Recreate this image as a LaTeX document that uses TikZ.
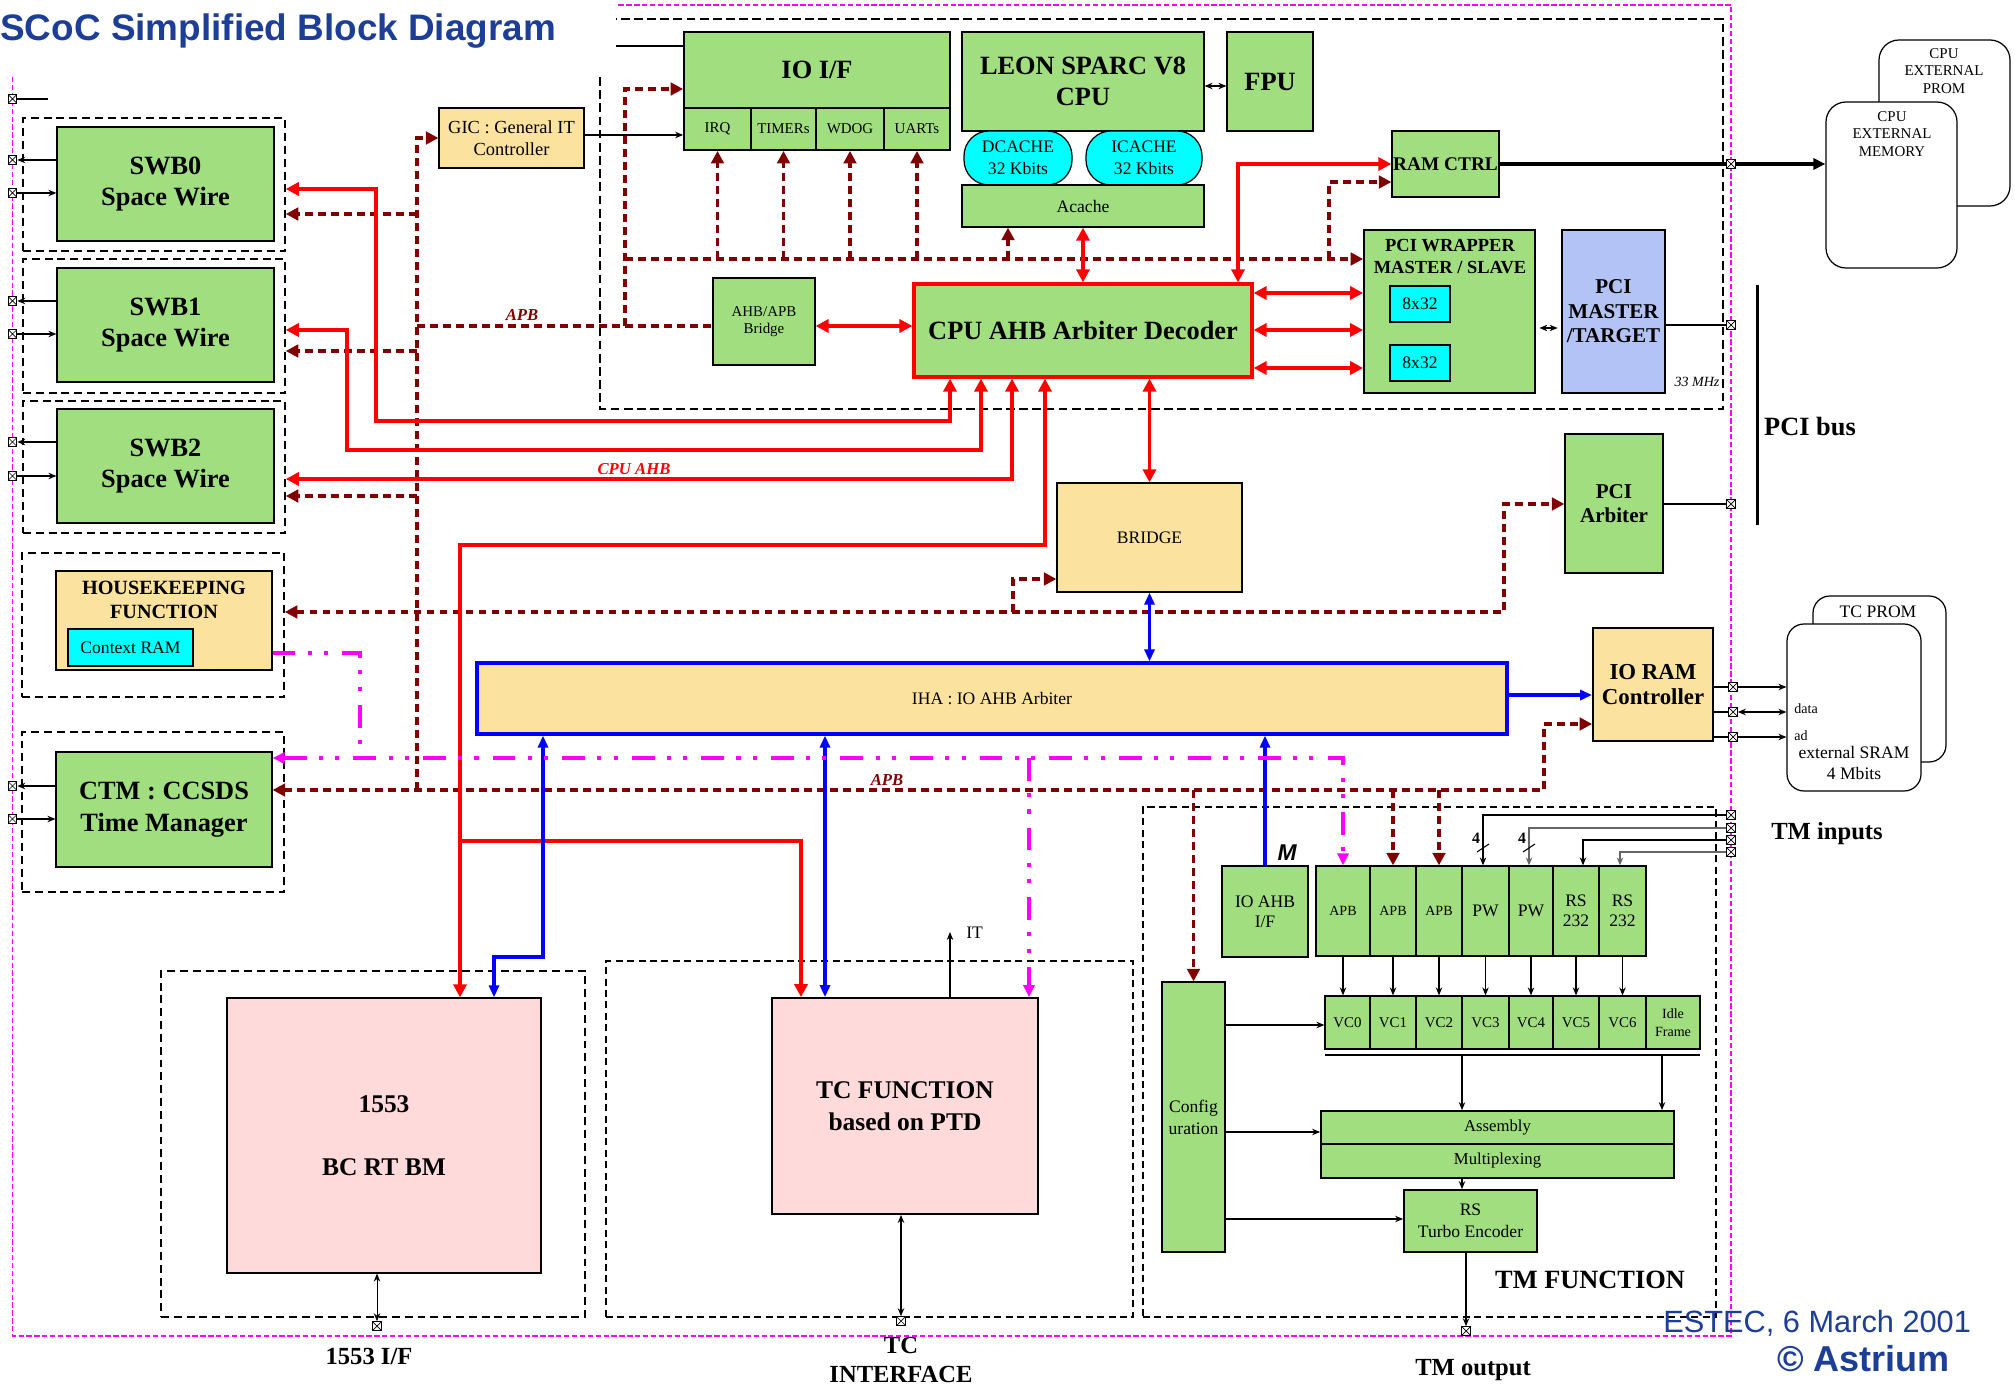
\documentclass[tikz,border=0pt]{standalone}
\usepackage{fontspec}
\setmainfont{Liberation Serif}
\newfontfamily\arialfont{Liberation Sans}
\usepackage{xcolor}
\usetikzlibrary{arrows.meta,positioning,fit}
\definecolor{blkgreen}{RGB}{160,222,128}
\definecolor{blkyellow}{RGB}{251,226,159}
\definecolor{blkpink}{RGB}{255,218,218}
\definecolor{blkblue}{RGB}{179,195,245}
\definecolor{blkcyan}{RGB}{0,255,255}
\definecolor{apbred}{RGB}{128,0,0}
\definecolor{itmagenta}{RGB}{255,0,255}
\definecolor{titleblue}{RGB}{28,62,150}
\newcommand\fsz[2]{\fontsize{#1}{#2}\selectfont}

\begin{document}
\begin{tikzpicture}[
  x=0.02cm, y=-0.02cm, font=\fsz{10}{12},
  redtip/.tip={Triangle[length=0.26cm,width=0.26cm]},
  aptip/.tip={Triangle[length=0.25cm,width=0.25cm]},
  bluetip/.tip={Triangle[length=0.24cm,width=0.2cm]},
  magtip/.tip={Triangle[length=0.24cm,width=0.22cm]},
  thintip/.tip={Stealth[length=1.6mm,width=1.3mm]},
  span/.style n args={4}{minimum width={(#3-#1)*0.02cm}, minimum height={(#4-#2)*0.02cm}, at={({(#1+#3)/2},{(#2+#4)/2})}},
  blk/.style={rectangle, draw=black, line width=0.7pt, inner sep=0pt, align=center},
  grn/.style={blk, fill=blkgreen},
  ylw/.style={blk, fill=blkyellow},
  pnk/.style={blk, fill=blkpink},
  cyn/.style={blk, fill=blkcyan},
  memory/.style={blk, fill=white},
  frame/.style={rectangle, inner sep=0pt, draw=black, line width=0.9pt, dash pattern=on 4.5pt off 2.8pt},
  thinframe/.style={rectangle, inner sep=0pt, draw=black, line width=0.6pt, dash pattern=on 4pt off 2.5pt},
  port/.style={rectangle, draw=black, fill=white, line width=0.6pt, minimum size=0.17cm, inner sep=0pt,
    path picture={\draw[line width=0.4pt] (path picture bounding box.south west) -- (path picture bounding box.north east)
      (path picture bounding box.north west) -- (path picture bounding box.south east);}},
  bigb/.style={font=\fsz{15}{18}\bfseries},
  outlbl/.style={font=\fsz{14}{17}\bfseries, align=center},
  buslbl/.style={font=\fsz{9.5}{11}\bfseries\itshape},
  rbus/.style={draw=red, line width=2pt, redtip-redtip},
  bbus/.style={draw=blue, line width=1.8pt, bluetip-bluetip},
  apb/.style={draw=apbred, line width=2.1pt, dash pattern=on 4.5pt off 2.9pt},
  mag/.style={draw=itmagenta, line width=2pt, dash pattern=on 13pt off 7pt on 2.3pt off 7pt on 2.3pt off 8pt},
  arr/.style={-thintip, line width=0.6pt}
]
\useasboundingbox (0,0) rectangle (2015,1388);

\node[anchor=base west, inner sep=0pt, text=titleblue, font=\arialfont\bfseries\fsz{21}{24}] (title) at (0,41) {SCoC Simplified Block Diagram};
\draw[itmagenta, line width=1pt, dash pattern=on 3pt off 1.5pt] (12.5,77) |- (1731,1336) |- (616,5);
\draw[black, line width=0.6pt, dash pattern=on 5pt off 2.5pt] (600,77) |- (1723,409) |- (616,19);

\node[frame, fit={(23,118) (285,251)}] (swb0f) {};
\node[frame, fit={(23,259) (285,393)}] (swb1f) {};
\node[frame, fit={(23,401) (285,533)}] (swb2f) {};
\node[frame, fit={(22,553) (284,697)}] (hkf) {};
\node[frame, fit={(22,732) (284,892)}] (ctmf) {};
\node[frame, fit={(161,971) (585,1317)}] (f1553) {};
\node[thinframe, fit={(606,961) (1133,1317)}] (ftc) {};
\node[thinframe, fit={(1143,807) (1716,1317)}] (ftm) {};

\node[grn, bigb, span={57}{127}{274}{241}] (swb0) {SWB0\\Space Wire};
\node[grn, bigb, span={57}{268}{274}{382}] (swb1) {SWB1\\Space Wire};
\node[grn, bigb, span={57}{409}{274}{523}] (swb2) {SWB2\\Space Wire};
\node[ylw, span={56}{571}{272}{670}] (hk) {};
\node[font=\fsz{11.5}{14}\bfseries, align=center] (hktext) at (164,600) {HOUSEKEEPING\\FUNCTION};
\node[cyn, line width=1pt, span={68}{629}{193}{666}] (ctxram) {Context RAM};
\node[grn, bigb, span={56}{752}{272}{867}] (ctm) {CTM : CCSDS\\Time Manager};
\node[ylw, font=\fsz{10.5}{12.3}, span={439}{108}{584}{168}] (gic) {GIC : General IT\\Controller};

\node[grn, bigb, line width=1pt, span={684}{32}{950}{108}] (iof) {IO I/F};
\foreach \n/\xa/\xb/\t in {irq/684/751/IRQ, tim/751/816/TIMERs, wdog/816/884/WDOG, uart/884/950/UARTs}
  \node[grn, line width=1pt, font=\fsz{8.5}{10}, span={\xa}{108}{\xb}{150}] (\n) {\t};
\node[grn, bigb, span={962}{32}{1204}{131}] (leon) {LEON SPARC V8\\CPU};
\node[grn, bigb, span={1227}{32}{1313}{131}] (fpu) {FPU};
\node[cyn, rounded corners=0.5cm, font=\fsz{10}{12.3}, span={964}{131}{1072}{185}] (dcache) {DCACHE\\32 Kbits};
\node[cyn, rounded corners=0.5cm, font=\fsz{10}{12.3}, span={1086}{131}{1202}{185}] (icache) {ICACHE\\32 Kbits};
\node[grn, span={962}{185}{1204}{227}] (acache) {Acache};
\node[grn, font=\fsz{8.5}{9.5}, span={713}{278}{815}{365}] (ahbapb) {AHB/APB\\Bridge};
\node[grn, bigb, draw=red, line width=1.8pt, span={914}{284}{1252}{377}] (cpuahb) {CPU AHB Arbiter Decoder};
\node[grn, font=\fsz{11}{13}\bfseries, span={1392}{131}{1499}{197}] (ramctrl) {RAM CTRL};
\node[grn, line width=1pt, span={1364}{230}{1535}{393}] (pciwrap) {};
\node[font=\fsz{10.5}{12.5}\bfseries, align=center] (pciwraptext) at (1450,257) {PCI WRAPPER\\MASTER / SLAVE};
\node[cyn, span={1390}{286}{1450}{322}] (fifo1) {8x32};
\node[cyn, span={1390}{345}{1450}{381}] (fifo2) {8x32};
\node[blk, fill=blkblue, line width=1pt, font=\fsz{12}{14}\bfseries, span={1562}{230}{1665}{393}] (pcimt) {PCI\\MASTER\\/TARGET};
\node[font=\fsz{8}{9}\itshape] (mhz) at (1697,382) {33 MHz};
\node[grn, font=\fsz{12}{14}\bfseries, span={1565}{434}{1663}{573}] (pciarb) {PCI\\Arbiter};
\node[ylw, span={1057}{483}{1242}{592}] (bridge) {BRIDGE};
\node[ylw, draw=blue, line width=1.8pt, span={477}{663}{1507}{734}] (iha) {IHA : IO AHB Arbiter};
\node[ylw, line width=1pt, font=\fsz{13}{14.5}\bfseries, span={1593}{628}{1713}{741}] (ioram) {IO RAM\\Controller};

\node[grn, line width=1pt, font=\fsz{10}{11.3}, span={1222}{866}{1308}{957}] (ioahb) {IO AHB\\I/F};
\node[font=\arialfont\bfseries\itshape\fsz{13}{14}] (mlbl) at (1287,853) {M};
\foreach \i/\xa/\xb/\t in {1/1316/1370/{\fsz{8}{10}APB}, 2/1370/1416/{\fsz{8}{10}APB}, 3/1416/1462/{\fsz{8}{10}APB}, 4/1462/1509/PW, 5/1509/1553/PW, 6/1553/1599/{RS\\232}, 7/1599/1646/{RS\\232}}
  \node[grn, font=\fsz{10}{11.3}, span={\xa}{866}{\xb}{956}] (c\i) {\t};
\foreach \i/\xa/\xb/\t in {1/1325/1370/VC0, 2/1370/1416/VC1, 3/1416/1462/VC2, 4/1462/1509/VC3, 5/1509/1553/VC4, 6/1553/1599/VC5, 7/1599/1646/VC6, 8/1646/1700/{}}
  \node[grn, font=\fsz{8.5}{10}, span={\xa}{996}{\xb}{1049}] (vc\i) {\t};
\node[font=\fsz{8}{10.4}, align=center] at (vc8) {Idle\\Frame};
\node[grn, font=\fsz{10}{12.5}, span={1162}{982}{1225}{1252}] (config) {Config\\uration};
\node[grn, line width=1pt, font=\fsz{9.5}{11}, span={1321}{1111}{1674}{1144}] (assembly) {Assembly};
\node[grn, line width=1pt, font=\fsz{9.5}{11}, span={1321}{1144}{1674}{1178}] (mux) {Multiplexing};
\node[grn, line width=1pt, font=\fsz{10}{12.3}, span={1404}{1190}{1537}{1252}] (rsenc) {RS\\Turbo Encoder};
\node[font=\fsz{15}{18}\bfseries] (tmfunc) at (1590,1280) {TM FUNCTION};

\node[pnk, font=\fsz{14.5}{18}\bfseries, span={227}{998}{541}{1273}] (m1553) {1553\\[18pt]BC RT BM};
\node[pnk, line width=1pt, font=\fsz{14.5}{18}\bfseries, span={772}{998}{1038}{1214}] (tcf) {TC FUNCTION\\based on PTD};

\node[memory, rounded corners=0.4cm, span={1879}{40}{2010}{206}] (extprom) {};
\node[memory, rounded corners=0.4cm, span={1826}{102}{1957}{268}] (extmem) {};
\node[font=\fsz{8.5}{10}, align=center] at (1944,71) {CPU\\EXTERNAL\\PROM};
\node[font=\fsz{8.5}{10}, align=center] at (1892,134) {CPU\\EXTERNAL\\MEMORY};
\node[memory, rounded corners=0.34cm, span={1813}{596}{1946}{762}] (tcprom) {};
\node[memory, rounded corners=0.34cm, span={1787}{624}{1921}{791}] (sram) {};
\node at (1878,612) {TC PROM};
\node[align=center, font=\fsz{10}{12}] at (1854,763) {external SRAM\\4 Mbits};
\node[anchor=west, inner sep=0pt, font=\fsz{8}{9}] at (1794,709) {data};
\node[anchor=west, inner sep=0pt, font=\fsz{8}{9}] at (1794,736) {ad};

\draw[line width=1.7pt] (1757,285) -- (1757,525);
\node[font=\fsz{15}{18}\bfseries] (pcibus) at (1810,427) {PCI bus};
\node[outlbl] (tmin) at (1827,834) {TM inputs};
\node[outlbl] (if1553) at (369,1356) {1553 I/F};
\node[outlbl] (tcif) at (901,1360) {TC\\INTERFACE};
\node[outlbl] (tmout) at (1473,1370) {TM output};
\node[anchor=base west, inner sep=0pt, text=titleblue, font=\arialfont\fsz{17.5}{20}] (estec) at (1663,1332) {ESTEC, 6 March 2001};
\node[anchor=base west, inner sep=0pt, text=titleblue, font=\arialfont\bfseries\fsz{20.5}{24}] (astrium) at (1777,1371) {\textcopyright\ Astrium};

\node[buslbl, text=apbred] at (522,315) {APB};
\node[buslbl, text=apbred] at (887,780) {APB};
\node[buslbl, text=red] at (634,469) {CPU AHB};

\draw[apb,-aptip] (417,790) |- (gic.west);
\foreach \n/\y in {swb0f/214, swb1f/351, swb2f/496} \draw[apb,-aptip] (417,\y) -- (\n.east |- 0,\y);
\draw[apb] (417,326) -- (ahbapb.west |- 0,326);
\draw[apb,-aptip] (625,326) |- (iof.west |- 0,89);
\draw[apb,-aptip] (625,259) -- (pciwrap.west |- 0,259);
\foreach \c in {irq,tim,wdog,uart} \draw[apb,-aptip] (\c.south |- 0,259) -- (\c.south);
\draw[apb,-aptip] (1008,259) -- (acache.south -| 1008,0);
\draw[apb,-aptip] (1329,259) |- (ramctrl.west |- 0,182);
\draw[apb,aptip-aptip] (hkf.east |- 0,612) -| (1504,504) -- (pciarb.west |- 0,504);
\draw[apb,-aptip] (1013,612) |- (bridge.west |- 0,579);
\draw[apb,aptip-aptip] (ctm.east |- 0,790) -| (1544,724) -- (ioram.west |- 0,724);
\foreach \n in {config, c2, c3} \draw[apb,-aptip] (\n.north |- 0,790) -- (\n.north);

\draw[rbus] (swb0f.east |- 0,189) -| (376,421) -| (cpuahb.south -| 950,0);
\draw[rbus] (swb1f.east |- 0,330) -| (347,450) -| (cpuahb.south -| 981,0);
\draw[rbus] (swb2f.east |- 0,479) -| (cpuahb.south -| 1012,0);
\draw[rbus] (cpuahb.south -| 1045,0) |- (460,545) -- (m1553.north -| 460,0);
\draw[rbus,-redtip] (460,841) -| (tcf.north -| 801,0);
\draw[rbus] (acache.south -| 1083,0) -- (cpuahb.north -| 1083,0);
\draw[rbus] (cpuahb.north -| 1238,0) |- (ramctrl.west);
\draw[rbus] (ahbapb.east |- 0,326) -- (cpuahb.west |- 0,326);
\foreach \y in {293,330,368} \draw[rbus] (cpuahb.east |- 0,\y) -- (pciwrap.west |- 0,\y);
\draw[rbus] (cpuahb.south -| bridge.north) -- (bridge.north);

\draw[bbus] (bridge.south) -- (iha.north -| bridge.south);
\draw[bbus,-bluetip] (iha.east |- 0,695) -- (ioram.west |- 0,695);
\draw[bbus] (iha.south -| 543,0) |- (494,957) -- (m1553.north -| 494,0);
\draw[bbus] (iha.south -| 825,0) -- (tcf.north -| 825,0);
\draw[bbus,-bluetip] (ioahb.north) -- (iha.south -| ioahb.north);

\draw[mag] (hk.east |- 0,653) -| (360,758);
\draw[mag,magtip-magtip] (ctm.east |- 0,758) -| (c1.north);
\draw[mag,-magtip] (1029,758) -- (tcf.north -| 1029,0);

\coordinate (ptopend) at (48,99);
\node[port] (ptop) at (12.5,99) {};
\draw[line width=1.2pt] (ptop) -- (ptopend);
\foreach \n/\ya/\yb in {swb0/160/193, swb1/301/334, swb2/442/476, ctm/786/819} {
  \node[port] (po\n) at (12.5,\ya) {};
  \node[port] (pi\n) at (12.5,\yb) {};
  \draw[arr] (\n.west |- 0,\ya) -- (po\n);
  \draw[arr, line width=1pt] (pi\n) -- (\n.west |- 0,\yb);
}
\coordinate (iofin) at (616,46);
\draw[line width=0.6pt] (iofin) -- (iof.west |- 0,46);
\draw[arr] (gic.east |- 0,135) -- (irq.west |- 0,135);
\draw[arr, thintip-thintip] (leon.east |- 0,86) -- (fpu.west |- 0,86);
\draw[arr, thintip-thintip, shorten <=2pt, shorten >=2pt] (pciwrap.east |- 0,328) -- (pcimt.west |- 0,328);

\node[port] (pram) at (1731,164) {};
\node[port] (ppci) at (1731,325) {};
\node[port] (parb) at (1731,504) {};
\draw[line width=2.2pt] (ramctrl.east) -- (pram);
\draw[line width=2.2pt, -{Triangle[length=0.24cm,width=0.22cm]}] (pram) -- (extmem.west |- 0,164);
\draw[line width=1pt] (pcimt.east |- 0,325) -- (ppci);
\draw[line width=0.6pt] (pciarb.east |- 0,504) -- (parb);

\node[port] (pio1) at (1733,687) {};
\node[port] (pio2) at (1733,712) {};
\node[port] (pio3) at (1733,737) {};
\draw[line width=0.6pt] (ioram.east |- 0,687) -- (pio1);
\draw[arr] (pio1) -- (sram.west |- 0,687);
\draw[line width=1.3pt] (ioram.east |- 0,712) -- (pio2);
\draw[arr, line width=1.3pt, thintip-thintip] (pio2) -- (sram.west |- 0,712);
\draw[line width=1.3pt] (ioram.east |- 0,737) -- (pio3);
\draw[arr, line width=1.3pt] (pio3) -- (sram.west |- 0,737);

\foreach \i/\y in {1/815, 2/828, 3/840, 4/852} \node[port] (ptm\i) at (1731,\y) {};
\draw[arr] (ptm1) -| (c4.north -| 1483,0);
\draw[arr, draw=black!60] (ptm2) -| (c5.north -| 1529,0);
\draw[arr, line width=1pt] (ptm3) -| (c6.north -| 1583,0);
\draw[arr, draw=black!60] (ptm4) -| (c7.north -| 1620,0);
\node[font=\fsz{9}{10}\bfseries] at (1476,838) {4};
\node[font=\fsz{9}{10}\bfseries] at (1522,838) {4};
\draw[line width=0.6pt] (1477,852) -- (1489,844);
\draw[line width=0.6pt] (1523,852) -- (1535,844);

\foreach \i in {1,...,7} \draw[arr] (c\i.south) -- (c\i.south |- vc\i.north);
\coordinate (vcbarW) at (1325,1055);
\coordinate (vcbarE) at (1700,1055);
\draw[line width=0.8pt] (vcbarW) -- (vcbarE);
\draw[arr] (1462,1055) -- (assembly.north -| 1462,0);
\draw[arr, line width=1.2pt] (1662,1055) -- (assembly.north -| 1662,0);
\draw[arr, line width=1.2pt] (config.east |- 0,1025) -- (vc1.west |- 0,1025);
\draw[arr] (config.east |- 0,1132) -- (assembly.west |- 0,1132);
\draw[arr] (config.east |- 0,1219) -- (rsenc.west |- 0,1219);
\draw[arr] (mux.south -| 1462,0) -- (rsenc.north -| 1462,0);

\node[port] (ptmo) at (1466,1331) {};
\draw[arr] (rsenc.south -| 1466,0) -- (ptmo);
\node[port] (p1553) at (377,1326) {};
\draw[arr, line width=0.5pt, thintip-thintip] (m1553.south -| 377,0) -- (p1553);
\node[port] (ptc) at (901,1321) {};
\draw[arr, line width=1pt, thintip-thintip] (tcf.south -| 901,0) -- (ptc);

\coordinate (itend) at (950,932);
\draw[arr] (tcf.north -| 950,0) -- (itend);
\node[anchor=west, inner sep=0pt] (itlbl) at (966,933) {IT};
\end{tikzpicture}
\end{document}
